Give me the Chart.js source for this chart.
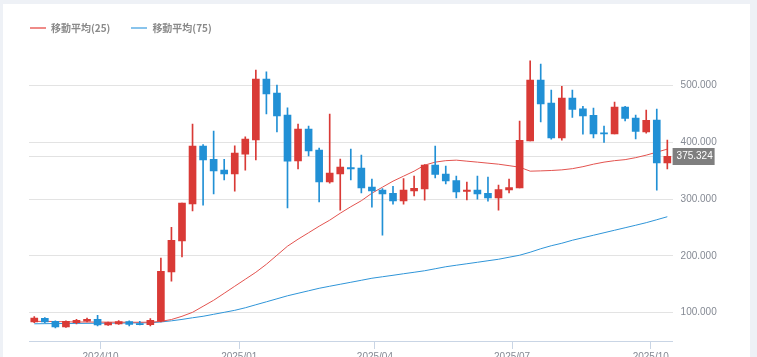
<!DOCTYPE html>
<html><head><meta charset="utf-8">
<script src="https://cdn.jsdelivr.net/npm/chart.js@4.4.1/dist/chart.umd.min.js"></script>
<style>
html,body{margin:0;padding:0;overflow:hidden;background:#eef1f6;width:757px;height:357px;}
#card{position:absolute;left:3px;top:4px;width:747px;height:400px;background:#fff;}
#wrap{position:absolute;left:0;top:0;width:757px;height:380px;}
#legend{position:absolute;left:30px;top:20px;height:15px;font:bold 10px "Noto Sans CJK JP","Noto Sans";color:#8a8a8a;display:flex;align-items:center;}
.item{display:flex;align-items:center;margin-right:21px;white-space:nowrap;}
.mk{width:16px;height:2px;margin-right:5px;}
</style></head>
<body>
<div id="card"></div>
<div id="wrap"><canvas id="c" width="757" height="380"></canvas></div>
<div id="legend"></div>
<script>
const weeks = ['2024-08-18','2024-08-25','2024-09-01','2024-09-08','2024-09-15','2024-09-22','2024-09-29','2024-10-06','2024-10-13','2024-10-20','2024-10-27','2024-11-03','2024-11-10','2024-11-17','2024-11-24','2024-12-01','2024-12-08','2024-12-15','2024-12-22','2024-12-29','2025-01-05','2025-01-12','2025-01-19','2025-01-26','2025-02-02','2025-02-09','2025-02-16','2025-02-23','2025-03-02','2025-03-09','2025-03-16','2025-03-23','2025-03-30','2025-04-06','2025-04-13','2025-04-20','2025-04-27','2025-05-04','2025-05-11','2025-05-18','2025-05-25','2025-06-01','2025-06-08','2025-06-15','2025-06-22','2025-06-29','2025-07-06','2025-07-13','2025-07-20','2025-07-27','2025-08-03','2025-08-10','2025-08-17','2025-08-24','2025-08-31','2025-09-07','2025-09-14','2025-09-21','2025-09-28','2025-10-05','2025-10-12'];
const openP  = [83500,90000,84700,74600,82400,84700,88200,78200,80000,84200,80600,78900,84700,171600,226200,291400,393000,370000,350700,344200,379000,404200,511100,486400,447700,367100,423000,386000,330100,344200,355500,354300,320800,315500,310200,296700,314300,317800,359600,343700,332600,313200,315500,310200,302000,316000,319600,402400,509300,468800,407700,477600,458800,447100,416000,414700,461800,442400,418200,438900,363600];
const highP  = [93000,91200,85500,85500,88200,90500,95300,83500,86000,85500,84700,89400,196200,250300,293000,431800,396000,419500,370000,393600,409400,527000,524000,500500,460500,431800,428300,389500,449400,370100,387800,377200,335000,318500,322500,336000,340200,360500,393000,357800,340200,329600,340200,338400,324300,334900,437100,543300,537500,491700,498200,491700,463000,460000,428300,470600,463000,447700,456500,458200,403600];
const lowP   = [82400,81700,72900,74000,80000,83500,76400,77500,79000,76400,78200,76400,83500,155200,198000,279000,289000,309000,333700,313700,350800,369000,450000,418300,284300,353000,376000,295000,327800,280300,333700,310800,285600,236200,290800,290800,305500,298000,337200,326600,302000,298400,299600,296000,280300,310800,319600,402400,435900,405400,403600,443600,414200,407700,399600,414700,437600,405900,416000,315500,353000];
const closeP = [90500,83400,74600,84700,86400,88200,78200,82400,84200,79000,78900,86400,172800,227400,292600,393000,369000,349500,344200,380700,405400,511100,485200,446400,366600,423000,384800,330100,345500,356000,353000,319600,314300,309000,296700,315500,319000,359600,343200,332000,312500,315500,309000,302000,316800,320000,403100,509300,467600,407700,477600,457700,446400,414700,414700,461800,441900,419000,438300,363600,375324];
const ma25 = [84500,84600,84300,83800,83500,83400,83300,83200,83100,83000,83000,83100,84500,87800,93500,100500,111100,121700,134000,146400,158700,171000,185100,201000,216900,229200,240600,252100,262700,275000,286400,297000,310200,320800,331400,340200,349000,359600,364900,367500,368400,366600,364900,363100,361300,358700,356000,349000,349500,350200,351300,353400,356900,361300,364900,367500,369300,372800,377200,382500,387800];
const ma75 = [80300,80500,80700,80800,81000,81100,81200,81400,81500,81700,81900,82100,83500,85500,88000,90900,93500,97000,100500,104000,108500,113800,119000,124300,129600,134000,138400,142800,146400,149900,153400,156900,160500,163100,165700,168400,171000,173700,177200,180700,183400,186000,188600,191300,193900,197500,201000,206300,212400,217700,222100,227400,231800,236200,240600,245000,249400,253800,258300,263500,268800];
const yTicks = [100000,200000,300000,400000,500000];
const xTickDates = ['2024-10-01','2025-01-01','2025-04-01','2025-07-01','2025-10-01'];
const xTickLabels = ['2024/10','2025/01','2025/04','2025/07','2025/10'];
const seriesNames = ['移動平均(25)','移動平均(75)'];

const UP = '#d93a36', DOWN = '#2190d5';
const MA25C = '#e3534f', MA75C = '#2f95d8';
const day = s => { const [y,m,d] = s.split('-').map(Number); return Date.UTC(y,m-1,d)/86400000; };
const xs = weeks.map(day);
const fmt = v => String(Math.round(v)).replace(/\B(?=(\d{3})+(?!\d))/g,'.');
const colors = closeP.map((c,i)=> c >= openP[i] ? UP : DOWN);
const lastClose = closeP[closeP.length-1];
const FONT = '"Liberation Sans", Arial, sans-serif';

// HTML legend
const lg = document.getElementById('legend');
[[seriesNames[0],'#ef8b88'],[seriesNames[1],'#89c4ec']].forEach(([t,c])=>{
  const it=document.createElement('div'); it.className='item';
  const mk=document.createElement('div'); mk.className='mk'; mk.style.background=c;
  const sp=document.createElement('span'); sp.textContent=t;
  it.appendChild(mk); it.appendChild(sp); lg.appendChild(it);
});

const refLine = {
  id:'refLine',
  beforeDatasetsDraw(chart){
    const {ctx, chartArea:a, scales:{y}} = chart;
    const py = Math.round(y.getPixelForValue(lastClose))+0.5;
    ctx.save(); ctx.strokeStyle='#e2e2e2'; ctx.lineWidth=1;
    ctx.beginPath(); ctx.moveTo(a.left,py); ctx.lineTo(a.right,py); ctx.stroke(); ctx.restore();
  },
  afterDraw(chart){
    const {ctx, chartArea:a, scales:{y}} = chart;
    const py = y.getPixelForValue(lastClose);
    ctx.save(); ctx.fillStyle='#7f7f7f'; ctx.fillRect(a.right, Math.round(py-8.5), 42, 17);
    ctx.fillStyle='#fff'; ctx.font='10px '+FONT; ctx.textBaseline='middle'; ctx.textAlign='left';
    ctx.fillText(fmt(lastClose), a.right+4, py+0.5); ctx.restore();
  }
};

new Chart(document.getElementById('c'), {
  type:'bar',
  data:{
    datasets:[
      {type:'line', label:seriesNames[0], data:xs.map((x,i)=>({x, y:ma25[i]})), borderColor:MA25C, borderWidth:1, pointRadius:0, tension:0, order:3},
      {type:'line', label:seriesNames[1], data:xs.map((x,i)=>({x, y:ma75[i]})), borderColor:MA75C, borderWidth:1, pointRadius:0, tension:0, order:3},
      {label:'wick', data:xs.map((x,i)=>({x, y:[lowP[i], highP[i]]})), backgroundColor:colors, barThickness:1, grouped:false, order:2},
      {label:'body', data:xs.map((x,i)=>({x, y:[openP[i], closeP[i]]})), backgroundColor:colors, barThickness:7, grouped:false, minBarLength:1, order:1}
    ]
  },
  options:{
    responsive:false, animation:false,
    layout:{padding:{left:29, top:57, right:34.4, bottom:9}},
    plugins:{legend:{display:false}, tooltip:{enabled:false}},
    scales:{
      x:{type:'linear', offset:false, min:xs[0]-3.5, max:xs[xs.length-1]+3.5,
        afterBuildTicks(s){ s.ticks = xTickDates.map(d=>({value:day(d)})); },
        afterFit(s){ s.height = 30; },
        ticks:{callback:(v,i)=>xTickLabels[i], maxRotation:0, autoSkip:false, padding:2, color:'#858a94', font:{family:FONT, size:10}},
        grid:{drawOnChartArea:false, drawTicks:true, tickLength:8, color:'#c9d5e5', offset:false},
        border:{display:true, color:'#c9d5e5', width:1}
      },
      y:{position:'right', min:50000, max:550000,
        afterBuildTicks(s){ s.ticks = yTicks.map(v=>({value:v})); },
        afterFit(s){ s.width = 50; },
        ticks:{callback:v=>fmt(v), padding:8, color:'#858a94', font:{family:FONT, size:10}},
        grid:{color:'#e3e3e3', drawTicks:false},
        border:{display:false}
      }
    }
  },
  plugins:[refLine]
});
</script>
</body></html>
